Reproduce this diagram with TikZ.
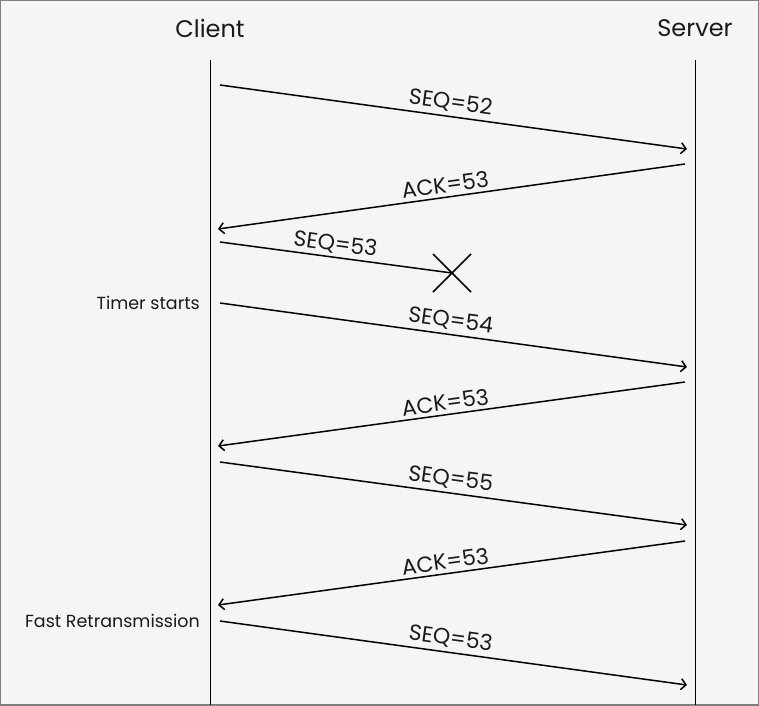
\documentclass[tikz,border=0pt]{standalone}
\usepackage{fontspec}
\setmainfont{Poppins}
\usetikzlibrary{arrows.meta}
\definecolor{bgc}{HTML}{F5F5F5}
\definecolor{framec}{HTML}{7F7F7F}
\definecolor{txt}{HTML}{1A1A1A}
\begin{document}
\begin{tikzpicture}[x=1pt,y=-1pt,
  lifeline/.style={line width=0.9pt,black},
  msg/.style={line width=1.5pt,black,-{Straight Barb[length=5pt,width=11pt,line width=1.5pt]}},
  lost/.style={line width=1.5pt,black},
  msglabel/.style={font=\fontsize{22}{26}\selectfont,text=txt,sloped,above,inner sep=3.5pt,pos=0.49},
  head/.style={font=\fontsize{24}{28}\selectfont,text=txt},
  side/.style={font=\fontsize{17.5}{20}\selectfont,text=txt,anchor=east,inner sep=0pt}]
\fill[bgc] (0,0) rectangle (759,705);
\useasboundingbox (0,0) rectangle (759,705);
\draw[framec,line width=2pt] (0,0) rectangle (759,705);
% headers
\node[head] (client) at (210,28) {Client};
\node[head] (server) at (695,28) {Server};
% lifelines
\coordinate (ctop) at (210,60); \coordinate (cbot) at (210,705);
\coordinate (stop) at (695,60); \coordinate (sbot) at (695,705);
\draw[lifeline] (ctop) -- (cbot);
\draw[lifeline] (stop) -- (sbot);
% endpoints
\coordinate (c1) at (220,85);  \coordinate (s1) at (687,149);
\coordinate (s2) at (685,164); \coordinate (c2) at (218,229);
\coordinate (c3) at (220,242); \coordinate (x3) at (452,273);
\coordinate (c4) at (220,303); \coordinate (s4) at (687,367);
\coordinate (s5) at (685,382); \coordinate (c5) at (218,446);
\coordinate (c6) at (220,462); \coordinate (s6) at (687,525);
\coordinate (s7) at (685,541); \coordinate (c7) at (218,605);
\coordinate (c8) at (220,621); \coordinate (s8) at (687,685);
% messages
\draw[msg] (c1) -- node[msglabel]{SEQ=52} (s1);
\draw[msg] (s2) -- node[msglabel,pos=0.51]{ACK=53} (c2);
\draw[lost] (c3) -- node[msglabel,inner sep=2.5pt]{SEQ=53} (x3);
\draw[lost] ([shift={(-19,-19)}]x3) -- ([shift={(19,19)}]x3);
\draw[lost] ([shift={(19,-19)}]x3) -- ([shift={(-19,19)}]x3);
\draw[msg] (c4) -- node[msglabel]{SEQ=54} (s4);
\draw[msg] (s5) -- node[msglabel,pos=0.51]{ACK=53} (c5);
\draw[msg] (c6) -- node[msglabel]{SEQ=55} (s6);
\draw[msg] (s7) -- node[msglabel,pos=0.51]{ACK=53} (c7);
\draw[msg] (c8) -- node[msglabel]{SEQ=53} (s8);
% side notes
\node[side] (timer) at (200,303) {Timer starts};
\node[side] (fast) at (200,621) {Fast Retransmission};
\end{tikzpicture}
\end{document}
